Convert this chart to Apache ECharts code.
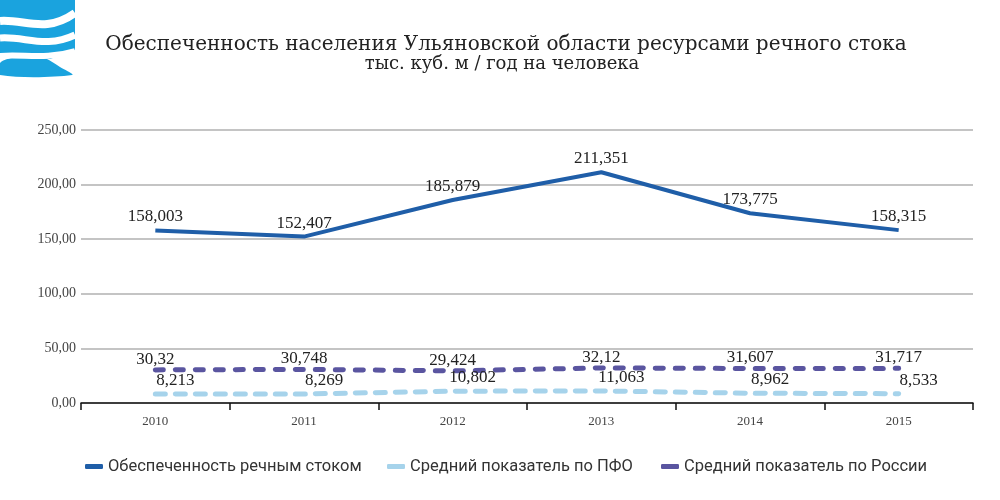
<!DOCTYPE html>
<html><head><meta charset="utf-8">
<script src="https://cdn.jsdelivr.net/npm/echarts@6/dist/echarts.min.js"></script>
<style>html,body{margin:0;padding:0;background:#fff}#c{width:1000px;height:500px}</style>
</head><body><div id="c"></div>
<script>
const categories = ['2010','2011','2012','2013','2014','2015'];
const seriesNames = ['Обеспеченность речным стоком','Средний показатель по ПФО','Средний показатель по России'];
const riverFlow = [158.003, 152.407, 185.879, 211.351, 173.775, 158.315];
const pfoAvg = [8.213, 8.269, 10.802, 11.063, 8.962, 8.533];
const russiaAvg = [30.32, 30.748, 29.424, 32.12, 31.607, 31.717];
const yTicks = [0, 50, 100, 150, 200, 250];
const titleText = 'Обеспеченность населения Ульяновской области ресурсами речного стока';
const subtitleText = 'тыс. куб. м / год на человека';

const colors = ['#1f5ea8', '#a6d3eb', '#5a55a0'];
const serif = 'Liberation Serif';
const fmt = v => String(v).replace('.', ',');

const chart = echarts.init(document.getElementById('c'));
const lbl = (extra) => Object.assign({
  show: true, position: 'top', fontFamily: serif, fontSize: 17, color: '#222',
  formatter: p => fmt(p.value)
}, extra);

const legendBase = (name, left, color) => ({
  data: [{name: name, itemStyle: {color: color}}], left: left, top: 453, itemWidth: 18, itemHeight: 5, icon: 'roundRect',
  textStyle: {fontFamily: 'Roboto', fontSize: 16.5, color: '#333'}, selectedMode: false
});

const wave = (x1, y1, cpx1, cpy1, cpx2, cpy2, x2, y2, w) => ({
  type: 'bezierCurve',
  shape: {x1, y1, cpx1, cpy1, cpx2, cpy2, x2, y2},
  style: {fill: null, stroke: '#fff', lineWidth: w}
});

const hidden = {symbol: 'circle', symbolSize: 0, showSymbol: true};

chart.setOption({
  animation: false,
  graphic: [
    {type: 'group', children: [
      {type: 'rect', shape: {x: 0, y: 0, width: 75, height: 75}, style: {fill: '#1aa3de'}},
      {type: 'polygon', shape: {points: [[0,56],[25,56],[50,59],[75,50],[75,75],[0,75]]}, style: {fill: '#fff'}},
      {type: 'polygon', shape: {smooth: 0.35, points: [[0,75],[0,63],[15,57],[30,54],[45,58],[60,67],[72,75]]}, style: {fill: '#1aa3de'}},
      wave(0, 21, 25, 19, 45, 34, 75, 13, 8),
      wave(0, 38, 25, 36, 45, 49, 75, 35, 7),
      wave(0, 56, 25, 54, 45, 60, 75, 51, 6)
    ]},
    {type: 'text', x: 506, y: 35, style: {text: titleText, fontFamily: 'DejaVu Serif', fontSize: 20, fill: '#222', textAlign: 'center'}},
    {type: 'text', x: 502, y: 55, style: {text: subtitleText, fontFamily: 'DejaVu Serif', fontSize: 18, fill: '#222', textAlign: 'center'}}
  ],
  legend: [
    legendBase(seriesNames[0], 80, colors[0]),
    legendBase(seriesNames[1], 382, colors[1]),
    legendBase(seriesNames[2], 656, colors[2])
  ],
  grid: {left: 81, right: 27, top: 130, bottom: 97},
  xAxis: {
    type: 'category', data: categories, boundaryGap: true,
    axisLine: {lineStyle: {color: '#111', width: 1.5}},
    axisTick: {show: true, length: 7, lineStyle: {color: '#111', width: 1.5}},
    axisLabel: {fontFamily: serif, fontSize: 13, color: '#444', margin: 12}
  },
  yAxis: {
    type: 'value', min: yTicks[0], max: yTicks[yTicks.length - 1], interval: 50,
    axisLine: {show: false}, axisTick: {show: false},
    axisLabel: {fontFamily: serif, fontSize: 14, color: '#444', margin: 5,
      formatter: v => v.toFixed(2).replace('.', ',')},
    splitLine: {lineStyle: {color: '#c4c4c4', width: 2}}
  },
  series: [
    Object.assign({name: seriesNames[0], type: 'line', data: riverFlow, color: colors[0],
      lineStyle: {width: 4, color: colors[0]}, label: lbl({distance: 5})}, hidden),
    Object.assign({name: seriesNames[1], type: 'line', data: pfoAvg, color: colors[1],
      lineStyle: {width: 5, color: colors[1], type: [10, 10], cap: 'round'},
      label: lbl({distance: 5, offset: [20, 0]})}, hidden),
    Object.assign({name: seriesNames[2], type: 'line', data: russiaAvg, color: colors[2],
      lineStyle: {width: 5, color: colors[2], type: [8, 12], cap: 'round'},
      label: lbl({distance: 0, offset: [0, -2]})}, hidden)
  ]
});
</script></body></html>
